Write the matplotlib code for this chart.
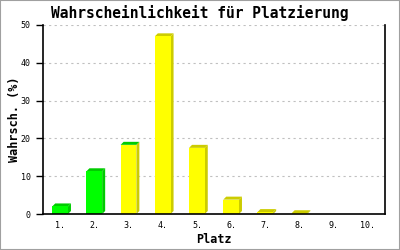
import matplotlib
matplotlib.use("Agg")
import matplotlib.pyplot as plt
from matplotlib.patches import Rectangle

platz_labels = ["1.", "2.", "3.", "4.", "5.", "6.", "7.", "8.", "9.", "10."]
wahrsch = [2.0, 11.3, 18.3, 47.0, 17.5, 3.8, 0.5, 0.2, 0.0, 0.0]
front_colors = ["#00ff00", "#00ff00"] + ["#ffff00"] * 8
side_colors = ["#00cc00", "#00cc00"] + ["#cccc00"] * 8
top_colors = ["#00cc00", "#00cc00", "#00cc00"] + ["#cccc00"] * 7
y_ticks = [0, 10, 20, 30, 40, 50]

W, H = 400, 250
left, right, bottom, top = 43 / W, 385 / W, 1 - 214 / H, 1 - 25 / H

fig = plt.figure(figsize=(4, 2.5), dpi=100)
fig.patch.set_facecolor("white")
ax = fig.add_axes([left, bottom, right - left, top - bottom])

xmin, xmax = 0.5, 10.5
ymin, ymax = 0, 50
ax.set_xlim(xmin, xmax)
ax.set_ylim(ymin, ymax)

# 3D Tiefe: 3 px nach rechts und oben, in Datenkoordinaten
dx = 3 * (xmax - xmin) / (W * (right - left))
dy = 3 * (ymax - ymin) / (H * (top - bottom))
w = 0.46

for i, v in enumerate(wahrsch):
    if v <= 0:
        continue
    x = i + 1
    xl, xr = x - w / 2, x + w / 2
    ax.fill([xr, xr + dx, xr + dx, xr], [0, dy, v + dy, v],
            color=side_colors[i], lw=0, zorder=3)
    ax.fill([xl, xl + dx, xr + dx, xr], [v, v + dy, v + dy, v],
            color=top_colors[i], lw=0, zorder=3)
    ax.bar(x, v, width=w, color=front_colors[i], lw=0, zorder=4)

ax.set_yticks(y_ticks)
ax.set_xticks(range(1, 11))
ax.set_xticklabels(platz_labels)
for lbl in ax.get_xticklabels() + ax.get_yticklabels():
    lbl.set_fontfamily("DejaVu Sans Mono")
    lbl.set_fontsize(6)
ax.tick_params(axis="x", length=0, pad=5)
ax.tick_params(axis="y", length=5, width=1, pad=4, direction="out")

for yv in y_ticks[1:]:
    ax.axhline(yv, color="#c0c0c0", lw=0.8, linestyle=(0, (2, 3)), zorder=1)

ax.spines["top"].set_visible(False)
for s in ["left", "bottom", "right"]:
    ax.spines[s].set_linewidth(1.2)
    ax.spines[s].set_color("black")
ax.spines["bottom"].set_zorder(5)

ax.set_xlabel("Platz", fontfamily="DejaVu Sans Mono", fontweight="bold",
              fontsize=8.5, labelpad=2)
ax.set_ylabel("Wahrsch. (%)", fontfamily="DejaVu Sans Mono", fontweight="bold",
              fontsize=8.5)
ax.yaxis.set_label_coords(-0.065, 0.5)

fig.text(0.5, 1 - 13 / H, "Wahrscheinlichkeit für Platzierung",
         ha="center", va="center", fontfamily="DejaVu Sans Mono",
         fontweight="bold", fontsize=10.5)

fig.patches.append(Rectangle((0, 0), 1, 1, transform=fig.transFigure,
                             fill=False, edgecolor="#a0a0a0", lw=1.5))

fig.savefig("out.png", dpi=100)
